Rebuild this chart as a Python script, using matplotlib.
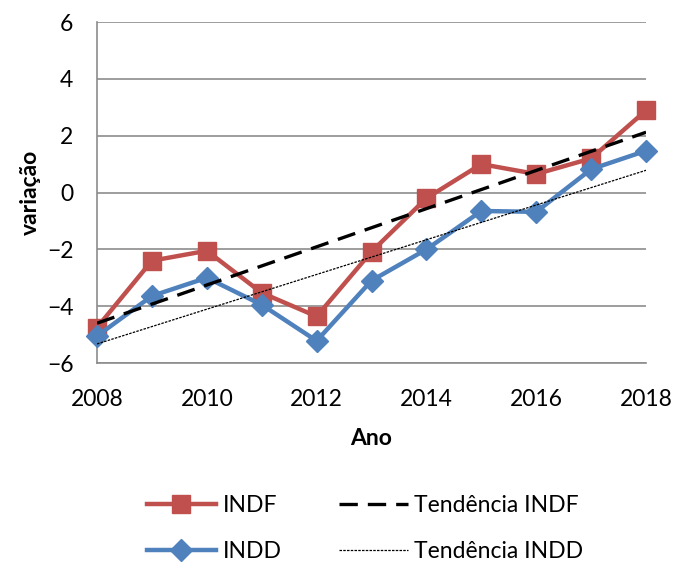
import numpy as np
import matplotlib
matplotlib.use("Agg")
import matplotlib.pyplot as plt

# data
anos = [2008, 2009, 2010, 2011, 2012, 2013, 2014, 2015, 2016, 2017, 2018]
indf = [-4.75, -2.4, -2.05, -3.53, -4.36, -2.08, -0.2, 1.0, 0.65, 1.2, 2.89]
indd = [-5.05, -3.64, -3.0, -3.95, -5.22, -3.1, -2.0, -0.65, -0.68, 0.82, 1.47]
xticks = [2008, 2010, 2012, 2014, 2016, 2018]
yticks = [-6, -4, -2, 0, 2, 4, 6]

red = '#C0504D'
blue = '#4F81BD'
grid_color = '#8C8C8C'

plt.rcParams['font.family'] = ['Lato', 'DejaVu Sans']

fig = plt.figure(figsize=(6.77, 5.63), dpi=100)
ax = fig.add_axes([0.1433, 0.3552, 0.811, 0.6057])

x = np.array(anos, dtype=float)

# linear trend lines
p_f = np.polyfit(x, indf, 1)
p_d = np.polyfit(x, indd, 1)

h1, = ax.plot(x, indf, color=red, lw=3.2, marker='s', markersize=13, label='INDF', zorder=3, clip_on=False)
h2, = ax.plot(x, indd, color=blue, lw=3.2, marker='D', markersize=11, label='INDD', zorder=3, clip_on=False)
h3, = ax.plot(x, np.polyval(p_f, x), color='black', lw=2.4, dashes=(5.5, 3), label='Tendência INDF', zorder=4)
h4, = ax.plot(x, np.polyval(p_d, x), color='black', lw=0.9, dashes=(2, 1), label='Tendência INDD', zorder=4)

ax.set_xlim(2008, 2018)
ax.set_ylim(-6, 6)
ax.set_xticks(xticks)
ax.set_yticks(yticks)
ax.tick_params(labelsize=16.5, length=0)
ax.tick_params(axis='x', pad=19)
ax.tick_params(axis='y', pad=17)
ax.grid(axis='y', color=grid_color, lw=1.2)
ax.set_axisbelow(True)
for s in ['top', 'right']:
    ax.spines[s].set_visible(False)
for s in ['left', 'bottom']:
    ax.spines[s].set_color(grid_color)
    ax.spines[s].set_linewidth(1.2)

ax.set_xlabel('Ano', fontsize=16.5, fontweight='bold', labelpad=13)
ax.set_ylabel('variação', fontsize=16.5, fontweight='bold', labelpad=4)

fig.legend(handles=[h1, h2, h3, h4], ncol=2, loc='upper left', bbox_to_anchor=(0.217, 0.121),
           frameon=False, fontsize=16.5, handlelength=3.0, handletextpad=0.3,
           columnspacing=2.5, labelspacing=1.1, borderaxespad=0, borderpad=0)

fig.savefig('out.png', dpi=100)
